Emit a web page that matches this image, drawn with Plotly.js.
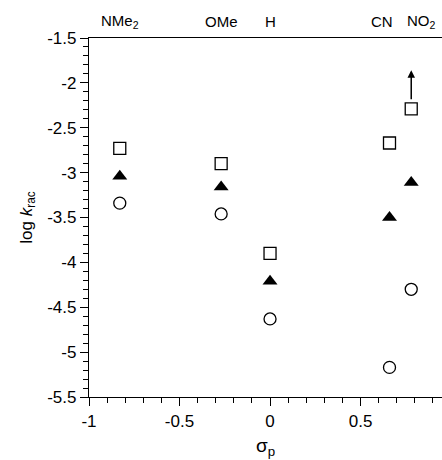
<!DOCTYPE html>
<html><head><meta charset="utf-8">
<script src="https://cdn.plot.ly/plotly-3.0.1.min.js"></script>
<style>html,body{margin:0;padding:0;background:#fff}</style>
</head><body><div id="chart" style="width:442px;height:460px"></div>
<script>
var substituents = ["NMe<sub>2</sub>", "OMe", "H", "CN", "NO<sub>2</sub>"];
var sigmaP = [-0.83, -0.27, 0.0, 0.66, 0.78];
var squareVals = [-2.73, -2.90, -3.90, -2.67, -2.29];
var triangleVals = [-3.04, -3.16, -4.21, -3.50, -3.11];
var circleVals = [-3.34, -3.46, -4.63, -5.17, -4.30];
var arrowTip = -1.86;
var xTickText = ["-1", "-0.5", "0", "0.5"];
var yTickText = ["-5.5", "-5", "-4.5", "-4", "-3.5", "-3", "-2.5", "-2", "-1.5"];
var labelShift = [0, 0, 0, -8, 10];
var xRange = [-1, 0.95];
var yRange = [-5.5, -1.5];

function alias(list) {
  var o = {};
  list.forEach(function(t){ o[t.replace('-', '\u2212')] = t; });
  return o;
}
function minorTicks() {
  return {dtick: 0.1, ticks: 'outside', ticklen: 5, tickwidth: 1, tickcolor: '#000'};
}

var font = "Liberation Sans, Arial, sans-serif";
function tr(y, sym, lw) {
  return {x: sigmaP, y: y, type: 'scatter', mode: 'markers', showlegend: false, hoverinfo: 'skip',
    marker: {symbol: sym, size: sym === 'triangle-up' ? 13 : 12, color: '#000',
      line: {color: '#000', width: lw}}};
}
var data = [
  tr(squareVals, 'square-open', 1.3),
  tr(triangleVals, 'triangle-up', 0),
  tr(circleVals, 'circle-open', 1.3)
];
var ann = substituents.map(function(s, i){
  return {x: sigmaP[i], y: 1, xref: 'x', yref: 'paper', yshift: 17, xshift: labelShift[i], text: s, showarrow: false,
    font: {family: font, size: 15, color: '#000'}, xanchor: 'center', yanchor: 'middle'};
});
ann.push({x: sigmaP[4], y: arrowTip, ax: sigmaP[4], ay: squareVals[4] + 0.09, xref: 'x', yref: 'y',
  axref: 'x', ayref: 'y', text: '', showarrow: true, arrowhead: 2, arrowsize: 1, arrowwidth: 1.5, arrowcolor: '#000'});

var clear = 'rgba(0,0,0,0)';
var layout = {
  width: 442, height: 460,
  margin: {l: 89, r: 0, t: 38, b: 63},
  paper_bgcolor: '#fff', plot_bgcolor: '#fff',
  font: {family: font, size: 17, color: '#000'},
  xaxis: {range: xRange, showgrid: true, gridcolor: clear, zeroline: true, zerolinecolor: clear,
    showline: true, linecolor: '#000', linewidth: 1.3,
    mirror: true, ticks: 'outside', ticklen: 8, tickwidth: 1.2, tickcolor: '#000',
    tick0: 0, dtick: 0.5, labelalias: alias(xTickText),
    minor: minorTicks(),
    tickfont: {size: 17},
    title: {text: 'σ<sub>p</sub>', font: {size: 19}, standoff: 9}},
  yaxis: {range: yRange, showgrid: true, gridcolor: clear, zeroline: true, zerolinecolor: clear,
    showline: true, linecolor: '#000', linewidth: 1.3,
    ticks: 'outside', ticklen: 8, tickwidth: 1.2, tickcolor: '#000',
    tick0: 0, dtick: 0.5, labelalias: alias(yTickText),
    minor: minorTicks(),
    tickfont: {size: 17},
    title: {text: 'log <i>k</i><sub>rac</sub>', font: {size: 17}, standoff: 10}},
  annotations: ann
};
Plotly.newPlot('chart', data, layout, {displayModeBar: false});
</script></body></html>
